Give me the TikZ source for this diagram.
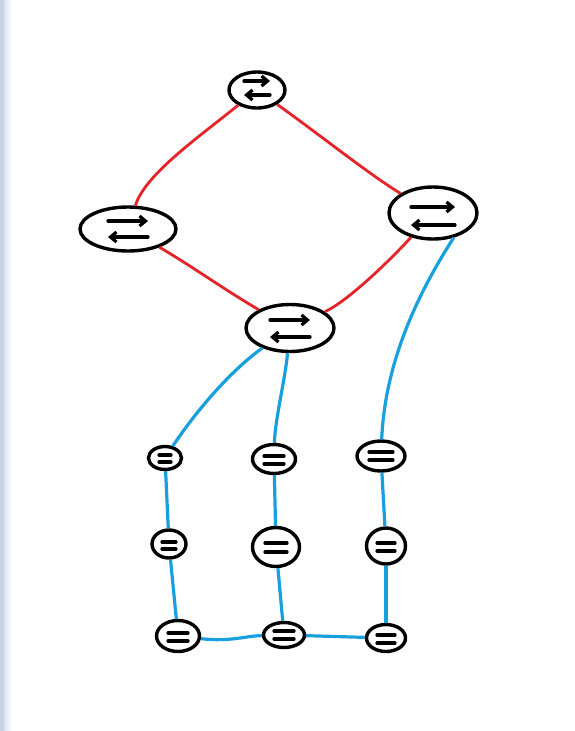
\documentclass[tikz,border=0pt]{standalone}
\usetikzlibrary{shapes.geometric,arrows.meta}
\definecolor{linkred}{RGB}{228,36,40}
\definecolor{linkblue}{RGB}{24,160,222}
\definecolor{stripc}{RGB}{200,210,230}
\newcommand\rarrows[4]{%
  \draw[inner mark,-{Straight Barb[length=6pt,width=10pt]}] ([shift={(-#2,#3)}]#1.center) -- ++(2*#2,0);
  \draw[inner mark,-{Straight Barb[length=6pt,width=10pt]}] ([shift={(#2,#4)}]#1.center) -- ++(-2*#2,0);}
\newcommand\swlines[4]{%
  \draw[inner mark] ([shift={(-#2,#3)}]#1.center) -- ++(2*#2,0);
  \draw[inner mark] ([shift={(-#2,#4)}]#1.center) -- ++(2*#2,0);}
\begin{document}
\begin{tikzpicture}[x=1pt,y=-1pt,
  dev/.style={ellipse,draw=black,line width=3.4pt,fill=white,inner sep=0pt},
  inner mark/.style={draw=black,line width=3.2pt,line cap=round},
  redlink/.style={draw=linkred,line width=2.8pt},
  bluelink/.style={draw=linkblue,line width=3.2pt}]
\path[use as bounding box] (0,0) rectangle (574,731);
\fill[white] (0,0) rectangle (574,731);
\fill[stripc] (0,0) rectangle (4,731);
\shade[left color=stripc!60,right color=white] (4,0) rectangle (12,731);
% routers
\node[dev,minimum width=56pt,minimum height=36pt] (R1) at (257,90) {};
\node[dev,minimum width=96pt,minimum height=44pt] (R2) at (128,229) {};
\node[dev,minimum width=88pt,minimum height=52pt] (R3) at (433,213) {};
\node[dev,minimum width=88pt,minimum height=47pt] (R4) at (290,328) {};
% switches
\node[dev,minimum width=33pt,minimum height=23pt] (S11) at (165,458) {};
\node[dev,minimum width=43pt,minimum height=29pt] (S12) at (274,459) {};
\node[dev,minimum width=48pt,minimum height=30pt] (S13) at (381,456) {};
\node[dev,minimum width=34pt,minimum height=28pt] (S21) at (169,544) {};
\node[dev,minimum width=47pt,minimum height=39pt] (S22) at (276,547) {};
\node[dev,minimum width=39pt,minimum height=36pt] (S23) at (386,546) {};
\node[dev,minimum width=43pt,minimum height=31pt] (S31) at (178,636) {};
\node[dev,minimum width=41pt,minimum height=25pt] (S32) at (284,635) {};
\node[dev,minimum width=39pt,minimum height=27pt] (S33) at (386,638) {};
% red links
\draw[redlink] (R1) .. controls (195,140) and (145,175) .. (R2);
\draw[redlink] (R1) .. controls (320,135) and (370,175) .. (R3);
\draw[redlink] (R2) .. controls (190,265) and (225,290) .. (R4);
\draw[redlink] (R3) .. controls (395,255) and (350,300) .. (R4);
% blue links
\draw[bluelink] (R4) .. controls (225,375) and (190,420) .. (S11);
\draw[bluelink] (R4) .. controls (285,380) and (275,420) .. (S12);
\draw[bluelink] (R3.-50) .. controls (420,290) and (385,360) .. (S13);
\draw[bluelink] (S11) -- (S21);
\draw[bluelink] (S21) -- (S31);
\draw[bluelink] (S12) -- (S22);
\draw[bluelink] (S22) -- (S32);
\draw[bluelink] (S13) -- (S23);
\draw[bluelink] (S23) -- (S33);
\draw[bluelink] (S31) .. controls (230,642) and (245,636) .. (S32);
\draw[bluelink] (S32) -- (S33);
% router symbols
\rarrows{R1}{13}{-9}{5}
\rarrows{R2}{20}{-8}{8}
\rarrows{R3}{22}{-6}{12}
\rarrows{R4}{20}{-8}{9}
% switch symbols
\swlines{S11}{6}{-3}{4}
\swlines{S12}{10}{-3}{5}
\swlines{S13}{12}{-4}{4}
\swlines{S21}{7}{-2}{5}
\swlines{S22}{11}{-4}{5}
\swlines{S23}{9}{-3}{5}
\swlines{S31}{10}{-3}{5}
\swlines{S32}{10}{-4}{4}
\swlines{S33}{9}{-3}{5}
\end{tikzpicture}
\end{document}
